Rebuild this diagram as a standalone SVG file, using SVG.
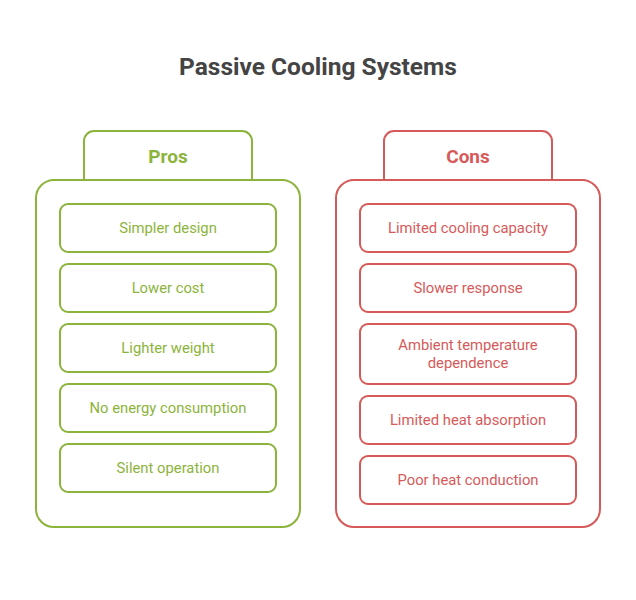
<svg xmlns="http://www.w3.org/2000/svg" width="636" height="600" viewBox="0 0 636 600">
<style>
text{font-family:"Roboto","Liberation Sans",sans-serif;text-anchor:middle}
.g{fill:none;stroke:#8cb43c;stroke-width:2}
.r{fill:none;stroke:#d65a5a;stroke-width:2}
.gt{fill:#8cb43c;font-size:14.8px}
.rt{fill:#d65a5a;font-size:14.8px}
.h{font-size:19px;font-weight:bold}
</style>
<rect width="636" height="600" fill="#fff"/>
<text x="318" y="75" font-size="24.5" font-weight="bold" fill="#444">Passive Cooling Systems</text>
<g id="pros">
<path class="g" d="M84 180V141a10 10 0 0 1 10-10H242a10 10 0 0 1 10 10V180"/>
<rect class="g" x="36" y="180" width="264" height="347" rx="18"/>
<text class="gt h" x="168" y="163">Pros</text>
</g>
<g id="p1"><rect class="g" x="60" y="204" width="216" height="48" rx="8"/><text class="gt" x="168" y="233">Simpler design</text></g>
<g id="p2"><rect class="g" x="60" y="264" width="216" height="48" rx="8"/><text class="gt" x="168" y="293">Lower cost</text></g>
<g id="p3"><rect class="g" x="60" y="324" width="216" height="48" rx="8"/><text class="gt" x="168" y="353">Lighter weight</text></g>
<g id="p4"><rect class="g" x="60" y="384" width="216" height="48" rx="8"/><text class="gt" x="168" y="413">No energy consumption</text></g>
<g id="p5"><rect class="g" x="60" y="444" width="216" height="48" rx="8"/><text class="gt" x="168" y="473">Silent operation</text></g>
<g id="cons">
<path class="r" d="M384 180V141a10 10 0 0 1 10-10H542a10 10 0 0 1 10 10V180"/>
<rect class="r" x="336" y="180" width="264" height="347" rx="18"/>
<text class="rt h" x="468" y="163">Cons</text>
</g>
<g id="c1"><rect class="r" x="360" y="204" width="216" height="48" rx="8"/><text class="rt" x="468" y="233">Limited cooling capacity</text></g>
<g id="c2"><rect class="r" x="360" y="264" width="216" height="48" rx="8"/><text class="rt" x="468" y="293">Slower response</text></g>
<g id="c3"><rect class="r" x="360" y="324" width="216" height="60" rx="8"/><text class="rt" x="468" y="350">Ambient temperature</text><text class="rt" x="468" y="368">dependence</text></g>
<g id="c4"><rect class="r" x="360" y="396" width="216" height="48" rx="8"/><text class="rt" x="468" y="425">Limited heat absorption</text></g>
<g id="c5"><rect class="r" x="360" y="456" width="216" height="48" rx="8"/><text class="rt" x="468" y="485">Poor heat conduction</text></g>
<g id="connectors"/>
</svg>
